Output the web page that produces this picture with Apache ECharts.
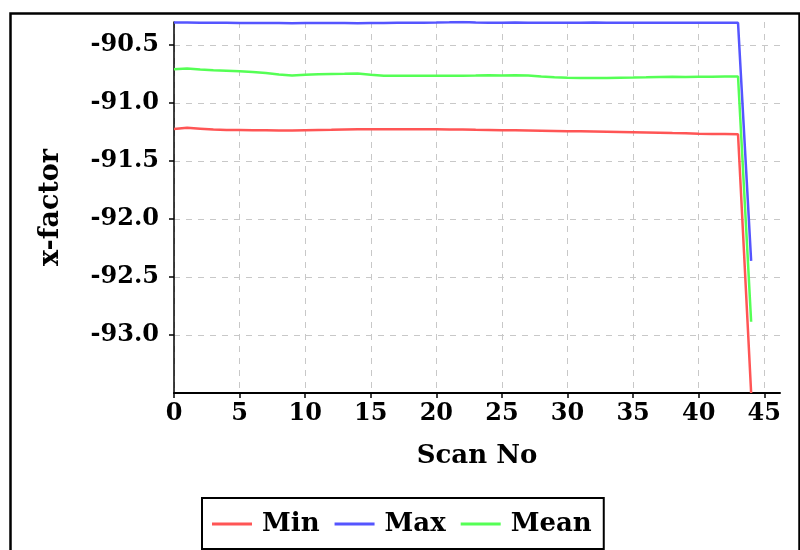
<!DOCTYPE html>
<html>
<head>
<meta charset="utf-8">
<script src="https://cdn.jsdelivr.net/npm/echarts@6/dist/echarts.min.js"></script>
<style>html,body{margin:0;padding:0;background:#fff}#c{width:800px;height:550px}</style>
</head>
<body>
<div id="c"></div>
<script>
const scanNo = [0,1,2,3,4,5,6,7,8,9,10,11,12,13,14,15,16,17,18,19,20,21,22,23,24,25,26,27,28,29,30,31,32,33,34,35,36,37,38,39,40,41,42,43,44];
const minVals = [-91.202,-91.193,-91.200,-91.208,-91.211,-91.212,-91.213,-91.214,-91.215,-91.216,-91.214,-91.212,-91.210,-91.207,-91.205,-91.206,-91.205,-91.205,-91.205,-91.205,-91.205,-91.207,-91.208,-91.210,-91.211,-91.213,-91.214,-91.216,-91.218,-91.220,-91.222,-91.223,-91.225,-91.227,-91.229,-91.231,-91.233,-91.235,-91.238,-91.240,-91.243,-91.245,-91.246,-91.248,-93.480];
const maxVals = [-90.285,-90.285,-90.286,-90.286,-90.287,-90.288,-90.289,-90.289,-90.289,-90.290,-90.289,-90.289,-90.289,-90.289,-90.290,-90.289,-90.288,-90.287,-90.287,-90.286,-90.285,-90.283,-90.280,-90.285,-90.286,-90.286,-90.285,-90.286,-90.286,-90.286,-90.286,-90.286,-90.285,-90.286,-90.286,-90.286,-90.286,-90.286,-90.286,-90.286,-90.286,-90.286,-90.286,-90.286,-92.340];
const meanVals = [-90.687,-90.682,-90.690,-90.696,-90.700,-90.705,-90.712,-90.720,-90.732,-90.742,-90.736,-90.730,-90.728,-90.727,-90.725,-90.736,-90.744,-90.744,-90.744,-90.744,-90.744,-90.743,-90.743,-90.742,-90.740,-90.742,-90.739,-90.742,-90.750,-90.757,-90.760,-90.762,-90.764,-90.762,-90.760,-90.759,-90.757,-90.754,-90.753,-90.754,-90.753,-90.752,-90.751,-90.750,-92.865];
const seriesNames = ['Min','Max','Mean'];
const seriesColors = ['#ff5555','#5555ff','#55ff55'];
const xTitle = 'Scan No';
const yTitle = 'x-factor';

const FONT = 'DejaVu Serif';
const chart = echarts.init(document.getElementById('c'), null, {renderer:'canvas'});
const allData = [minVals, maxVals, meanVals];
const option = {
  animation: false,
  backgroundColor: '#fff',
  grid: {left: 174, right: 20, top: 22, bottom: 157, containLabel: false},
  graphic: [{
    type: 'rect', left: 8, top: 11, silent: true,
    shape: {x: 0, y: 0, width: 789, height: 600},
    style: {fill: 'none', stroke: '#000', lineWidth: 2.5}
  }],
  legend: {
    left: 202, top: 498,
    orient: 'horizontal',
    borderColor: '#000', borderWidth: 2, borderRadius: 0,
    padding: [13, 12, 12, 10],
    itemGap: 15, itemWidth: 40, itemHeight: 3, icon: 'rect',
    textStyle: {fontFamily: FONT, fontWeight: 'bold', fontSize: 26, color: '#000', padding: [0,0,0,5]},
    data: seriesNames
  },
  xAxis: {
    type: 'value', min: 0, max: 46.2, interval: 5,
    name: xTitle, nameLocation: 'middle', nameGap: 50,
    nameTextStyle: {fontFamily: FONT, fontWeight: 'bold', fontSize: 26, color: '#000'},
    axisLine: {lineStyle: {color: '#000', width: 2}},
    axisTick: {show: true, length: 5, lineStyle: {color: '#000', width: 1.5}},
    axisLabel: {fontFamily: FONT, fontWeight: 'bold', fontSize: 24, color: '#000', margin: 9, showMaxLabel: false},
    splitLine: {show: true, showMaxLine: false, lineStyle: {color: '#c8c8c8', type: [6, 6], width: 1}}
  },
  yAxis: {
    type: 'value', min: -93.48, max: -90.28, interval: 0.5,
    name: yTitle, nameLocation: 'middle', nameGap: 110, nameRotate: 90,
    nameTextStyle: {fontFamily: FONT, fontWeight: 'bold', fontSize: 27, color: '#000'},
    axisLine: {show: true, lineStyle: {color: '#000', width: 1.5}},
    axisTick: {show: true, length: 5, lineStyle: {color: '#000', width: 1.5}},
    axisLabel: {fontFamily: FONT, fontWeight: 'bold', fontSize: 24, color: '#000', margin: 15, showMinLabel: false, showMaxLabel: false,
      formatter: v => v.toFixed(1)},
    splitLine: {show: true, showMaxLine: false, lineStyle: {color: '#c8c8c8', type: [6, 6], width: 1}}
  },
  series: seriesNames.map((n, i) => ({
    name: n, type: 'line', symbol: 'none', smooth: false,
    data: scanNo.map((x, j) => [x, allData[i][j]]),
    lineStyle: {color: seriesColors[i], width: 2.5},
    itemStyle: {color: seriesColors[i]}
  }))
};
chart.setOption(option);
</script>
</body>
</html>
